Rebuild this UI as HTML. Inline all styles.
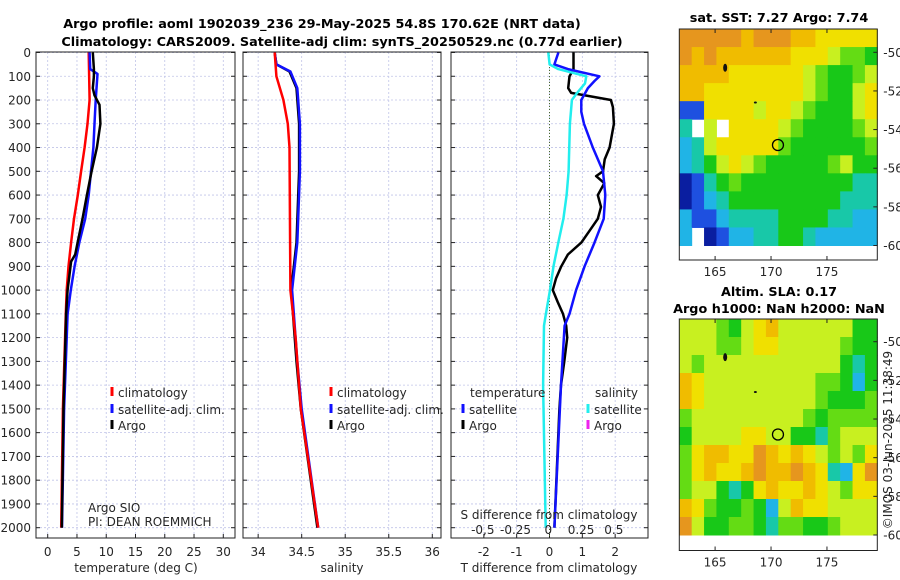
<!DOCTYPE html>
<html><head><meta charset="utf-8">
<style>
html,body{margin:0;padding:0;background:#fff;}
svg{display:block;font-family:"DejaVu Sans","Liberation Sans",sans-serif;}
.t{font-size:12px;fill:#262626;}
.b{font-weight:bold;fill:#000;font-size:12.8px;}
</style></head><body>
<svg id="c" width="900" height="580" viewBox="0 0 900 580">
<rect width="900" height="580" fill="#fff"/>
<text class="b" x="322" y="28" text-anchor="middle">Argo profile: aoml 1902039_236 29-May-2025 54.8S 170.62E (NRT data)</text>
<text class="b" x="342" y="46" text-anchor="middle">Climatology: CARS2009. Satellite-adj clim: synTS_20250529.nc (0.77d earlier)</text>
<text class="b" x="779" y="22" text-anchor="middle">sat. SST: 7.27 Argo: 7.74</text>
<text class="b" x="779" y="296" text-anchor="middle">Altim. SLA: 0.17</text>
<text class="b" x="779" y="313" text-anchor="middle">Argo h1000: NaN h2000: NaN</text>
<text class="t" transform="translate(892,440) rotate(-90)" text-anchor="middle">©IMOS 03-Jun-2025 11:38:49</text>
<g id="g"></g>
</svg>
<script>
// ---------- profile data ----------
const tClimDepth=[0,200,300,400,500,600,700,800,900,1000,1100,1500,2000];
const tClimVal=[7.0,7.15,6.8,6.3,5.7,5.15,4.5,4.0,3.55,3.25,3.1,2.6,2.3];
const tSatDepth=[0,70,90,200,300,400,500,600,700,800,900,1000,1100,1500,2000];
const tSatVal=[7.15,7.26,8.5,8.2,8.0,7.8,7.4,7.0,6.4,5.4,4.6,3.95,3.4,2.8,2.45];
const tArgoDepth=[0,70,100,150,180,220,300,400,500,600,700,800,850,880,1000,1100,1500,2000];
const tArgoVal=[7.7,7.9,7.9,7.7,8.0,8.85,9.0,8.4,7.5,6.7,5.95,5.1,4.7,4.0,3.4,3.15,2.7,2.4];
const sClimDepth=[0,100,200,300,400,1000,1200,1500,2000];
const sClimVal=[34.19,34.21,34.29,34.34,34.36,34.37,34.43,34.49,34.69];
const sSatDepth=[0,50,80,150,300,500,800,1000,1300,1500,2000];
const sSatVal=[34.19,34.21,34.37,34.45,34.48,34.48,34.45,34.39,34.45,34.50,34.69];
const sArgoDepth=[0,50,80,150,300,500,800,1000,1300,1500,2000];
const sArgoVal=[34.19,34.21,34.36,34.44,34.47,34.47,34.44,34.38,34.44,34.49,34.68];
const dTArgoDepth=[0,70,100,150,170,200,230,300,400,450,500,520,550,600,650,700,750,800,850,900,950,1000,1050,1100,1150,1200,1300,1400,1500,2000];
const dTArgoVal=[0.73,0.73,0.61,0.57,0.66,1.87,1.93,1.96,1.83,1.68,1.63,1.42,1.67,1.47,1.57,1.47,1.22,0.97,0.56,0.36,0.2,0.1,0.25,0.41,0.51,0.54,0.45,0.35,0.3,0.15];
const dTSatDepth=[0,50,70,100,120,150,200,250,300,400,500,600,700,800,900,1000,1100,1150,1400,2000];
const dTSatVal=[0.27,0.15,0.56,1.52,1.37,1.17,0.97,0.97,1.05,1.32,1.63,1.7,1.65,1.37,1.07,0.81,0.61,0.46,0.35,0.15];
const dSSatDepth=[0,50,70,100,130,170,200,300,500,600,700,800,900,1000,1100,1150,1400,2000];
const dSSatVal=[0,0.01,0.076,0.29,0.28,0.22,0.18,0.165,0.155,0.14,0.115,0.076,0.04,0.013,-0.018,-0.033,-0.04,-0.02];
const depthTicks=[0,100,200,300,400,500,600,700,800,900,1000,1100,1200,1300,1400,1500,1600,1700,1800,1900,2000];
const tTicks=[0,5,10,15,20,25,30];
const sTicks=[34,34.5,35,35.5,36];
const dTTicks=[-2,-1,0,1,2];
const dSTicks=[-0.5,-0.25,0,0.25,0.5];
const dSTickLabels=["-0,5","-0.25","0","0.25","0.5"];
// ---------- map data (codes 1..10, -1 = NaN) ----------
const sstGrid=[
[10,10,10,10,10,9,10,10,10,9,9,8,8,8,8,8],
[10,9,10,9,9,9,9,9,9,8,8,8,7,6,6,5],
[9,9,9,9,8,8,8,8,8,8,7,6,5,5,6,7],
[9,9,8,8,8,8,8,8,8,8,7,6,5,5,7,8],
[2,2,8,8,8,8,7,8,8,7,6,5,5,5,7,8],
[4,-1,7,-1,8,8,8,8,7,6,5,5,5,5,6,7],
[3,4,7,8,8,8,8,8,6,5,5,5,5,5,5,6],
[3,4,5,7,8,7,6,5,5,5,5,5,6,7,5,5],
[1,2,4,5,6,5,5,5,5,5,5,5,5,5,4,4],
[1,2,3,4,5,5,5,5,5,5,5,5,5,4,4,4],
[3,2,2,3,4,4,4,4,5,5,5,5,4,4,3,3],
[3,-1,1,2,3,3,4,4,5,5,4,3,3,3,3,3]];
const slaGrid=[
[7,7,7,6,5,7,8,9,7,7,7,7,7,7,5,5],
[7,7,7,6,6,7,8,8,7,7,7,7,7,6,5,5],
[7,6,7,7,7,7,7,7,7,7,7,7,7,5,4,5],
[9,8,7,7,7,7,7,7,7,7,7,6,6,5,3,5],
[9,8,7,7,7,7,7,7,7,7,7,6,5,5,5,6],
[6,7,7,7,7,7,7,7,7,7,6,5,6,6,6,6],
[5,7,7,7,7,8,8,7,7,5,5,4,6,7,7,7],
[6,8,9,9,8,8,10,9,8,9,8,7,6,7,6,8],
[6,8,9,8,8,9,10,9,9,10,9,8,4,3,8,10],
[6,7,7,5,4,5,8,9,8,8,9,8,7,6,8,8],
[9,8,6,5,5,6,5,3,7,9,8,8,7,7,7,7],
[10,7,5,5,6,6,5,4,6,6,5,5,6,7,7,7]];
const latTicks=[-50,-52,-54,-56,-58,-60];
const lonTicks=[165,170,175];
const argoLon=170.62, argoLat=-54.8;

const NS="http://www.w3.org/2000/svg";
const G=document.getElementById('g');
function mk(tag,attrs,parent){const e=document.createElementNS(NS,tag);for(const k in attrs)e.setAttribute(k,attrs[k]);(parent||G).appendChild(e);return e;}
const yD=d=>52.5+d*0.2376;
const TOP=52, BOT=538;
const panels=[
 {x0:36,x1:235,lo:-2,hi:32,ticks:tTicks,labels:tTicks.map(String),name:'temperature'},
 {x0:243,x1:441,lo:33.826,hi:36.1,ticks:sTicks,labels:sTicks.map(String),name:'salinity'},
 {x0:451,x1:648,lo:-3,hi:3,ticks:dTTicks,labels:dTTicks.map(String),name:'difference'}
];
panels.forEach((p,i)=>{
 const sx=v=>p.x0+(v-p.lo)/(p.hi-p.lo)*(p.x1-p.x0);
 p.sx=sx;
 const ax=mk('rect',{x:p.x0,y:TOP,width:p.x1-p.x0,height:BOT-TOP,fill:'#fff'});
 
 
 depthTicks.forEach(d=>{
  const l=mk('line',{x1:p.x0,x2:p.x1,y1:yD(d),y2:yD(d),stroke:'#c0c4e8','stroke-width':0.8,'stroke-dasharray':'2,2'});
  
  
  const tk=mk('line',{x1:p.x0,x2:p.x0+4,y1:yD(d),y2:yD(d),stroke:'#222'});
  
  
  const tk2=mk('line',{x1:p.x1-4,x2:p.x1,y1:yD(d),y2:yD(d),stroke:'#222'});
  
  
  if(i===0){const t=mk('text',{x:31,y:yD(d)+4.5,'text-anchor':'end',class:'t'});t.textContent=d;
   
   }
 });
 p.ticks.forEach((v,j)=>{
  const l=mk('line',{x1:sx(v),x2:sx(v),y1:TOP,y2:BOT,stroke:'#c0c4e8','stroke-width':0.8,'stroke-dasharray':'2,2'});
  
  
  const tk=mk('line',{x1:sx(v),x2:sx(v),y1:BOT,y2:BOT-4,stroke:'#222'});
  
  
  const t=mk('text',{x:sx(v),y:556,'text-anchor':'middle',class:'t'});t.textContent=p.labels[j];
  
  
 });
 const fr=mk('rect',{x:p.x0,y:TOP,width:p.x1-p.x0,height:BOT-TOP,fill:'none',stroke:'#222','stroke-width':1});
 
 
});
function line(p,sx,depths,vals,color,w,name){
 const pts=depths.map((d,k)=>sx(vals[k]).toFixed(1)+','+yD(d).toFixed(1)).join(' ');
 const e=mk('polyline',{points:pts,fill:'none',stroke:color,'stroke-width':w,'stroke-linejoin':'round'});
 
 
}
const P0=panels[0],P1=panels[1],P2=panels[2];
const sxS=v=>548.3+v*131;
const z=mk('line',{x1:P2.sx(0),x2:P2.sx(0),y1:TOP,y2:BOT,stroke:'#4a6a2a','stroke-width':1,'stroke-dasharray':'1,2'});


line(P0,P0.sx,tClimDepth,tClimVal,'#f00',2.5,'temp-climatology-line');
line(P0,P0.sx,tSatDepth,tSatVal,'#11f',2.5,'temp-satellite-line');
line(P0,P0.sx,tArgoDepth,tArgoVal,'#000',2.5,'temp-argo-line');
line(P1,P1.sx,sArgoDepth,sArgoVal,'#000',2.5,'sal-argo-line');
line(P1,P1.sx,sSatDepth,sSatVal,'#11f',2.5,'sal-satellite-line');
line(P1,P1.sx,sClimDepth,sClimVal,'#f00',2.5,'sal-climatology-line');
line(P2,P2.sx,dTArgoDepth,dTArgoVal,'#000',2.5,'tdiff-argo-line');
line(P2,P2.sx,dTSatDepth,dTSatVal,'#11f',2.5,'tdiff-satellite-line');
line(P2,sxS,dSSatDepth,dSSatVal,'#2ee','2.5','sdiff-satellite-line');
dSTicks.forEach((v,j)=>{
 const t=mk('text',{x:sxS(v),y:534,'text-anchor':'middle',class:'t'});t.textContent=dSTickLabels[j];
 
 
});
function txt(x,y,s,name,anchor,cls,size){const t=mk('text',{x:x,y:y,'text-anchor':anchor||'start',class:cls||'t'});if(size)t.setAttribute('font-size',size);t.textContent=s;
 
 return t;}
txt(549,519,'S difference from climatology','s-diff-axis-title','middle');
txt(136,572,'temperature (deg C)','temp-axis-title','middle');
txt(342,572,'salinity','sal-axis-title','middle');
txt(549,572,'T difference from climatology','t-diff-axis-title','middle');
txt(88,512,'Argo SIO','argo-sio-note','start','t','10px');
txt(88,526,'PI: DEAN ROEMMICH','pi-note','start','t','10px');
function leg(x,y,color,label,name){
 const m=mk('rect',{x:x-1.5,y:y-10,width:3,height:9,fill:color});
 
 
 txt(x+6,y,label,name);
}
leg(112,397,'#f00','climatology','legend-climatology');
leg(112,414,'#11f','satellite-adj. clim.','legend-satellite-adj');
leg(112,430,'#000','Argo','legend-argo');
leg(331,397,'#f00','climatology','legend-sal-climatology');
leg(331,414,'#11f','satellite-adj. clim.','legend-sal-satellite-adj');
leg(331,430,'#000','Argo','legend-sal-argo');
txt(470,397,'temperature','legend-temperature-header');
txt(595,397,'salinity','legend-salinity-header');
leg(463,414,'#11f','satellite','legend-tdiff-satellite');
leg(463,430,'#000','Argo','legend-tdiff-argo');
leg(588,414,'#2ee','satellite','legend-sdiff-satellite');
leg(588,430,'#e2e','Argo','legend-sdiff-argo');
// ---------- maps ----------
const pal={1:'#0a1ea0',2:'#1e50e0',3:'#20b4e6',4:'#18c8a8',5:'#18c818',6:'#64dc14',7:'#c8f020',8:'#f0e000',9:'#f0bc00',10:'#e6961e'};
function drawMap(grid,mx0,mx1,yTop,yAxisBot,yLat50,yLat60,name){
 const lonLo=161.8,lonHi=179.5;
 const sxm=lon=>mx0+(lon-lonLo)/(lonHi-lonLo)*(mx1-mx0);
 const sym=lat=>yLat50+(lat+50)/(-10)*(yLat60-yLat50);
 const latTop=-50+(yTop-yLat50)/(yLat60-yLat50)*(-10);
 const latBot=-60;
 const rows=grid.length,cols=grid[0].length;
 const bg=mk('rect',{x:mx0,y:yTop,width:mx1-mx0,height:yAxisBot-yTop,fill:'#fff'});
 
 
 for(let r=0;r<rows;r++)for(let c=0;c<cols;c++){
  const v=grid[r][c]; if(v<0)continue;
  const la0=latTop+(latBot-latTop)*r/rows, la1=latTop+(latBot-latTop)*(r+1)/rows;
  const lo0=lonLo+(lonHi-lonLo)*c/cols, lo1=lonLo+(lonHi-lonLo)*(c+1)/cols;
  const e=mk('rect',{x:sxm(lo0),y:sym(la0),width:sxm(lo1)-sxm(lo0)+0.5,height:sym(la1)-sym(la0)+0.5,fill:pal[v]});
  
  
 }
 const fr=mk('rect',{x:mx0,y:yTop,width:mx1-mx0,height:yAxisBot-yTop,fill:'none',stroke:'#222'});
 
 
 latTicks.forEach(l=>{
  const tk=mk('line',{x1:mx1-4,x2:mx1,y1:sym(l),y2:sym(l),stroke:'#222'});
  
  
  txt(mx1+6,sym(l)+4.5,String(l),name+'-lat-label');
 });
 lonTicks.forEach(l=>{
  const tk=mk('line',{x1:sxm(l),x2:sxm(l),y1:yAxisBot,y2:yAxisBot-4,stroke:'#222'});
  
  
  const tk2=mk('line',{x1:sxm(l),x2:sxm(l),y1:yTop,y2:yTop+4,stroke:'#222'});
  
  
  txt(sxm(l),yAxisBot+16,String(l),name+'-lon-label','middle');
 });
 const isl=mk('ellipse',{cx:sxm(165.9),cy:sym(-50.8),rx:2,ry:4,fill:'#111'});
 
 
 const isl2=mk('ellipse',{cx:sxm(168.6),cy:sym(-52.6),rx:1.5,ry:1,fill:'#111'});
 
 
 const ci=mk('circle',{cx:sxm(argoLon),cy:sym(argoLat),r:5.5,fill:'none',stroke:'#000','stroke-width':1.3});
 
 
}
drawMap(sstGrid,679.3,877.3,29,260,52.3,245.5,'sst-map');
drawMap(slaGrid,679.3,877.3,319,550.5,341.7,535,'sla-map');
</script>
</body></html>
